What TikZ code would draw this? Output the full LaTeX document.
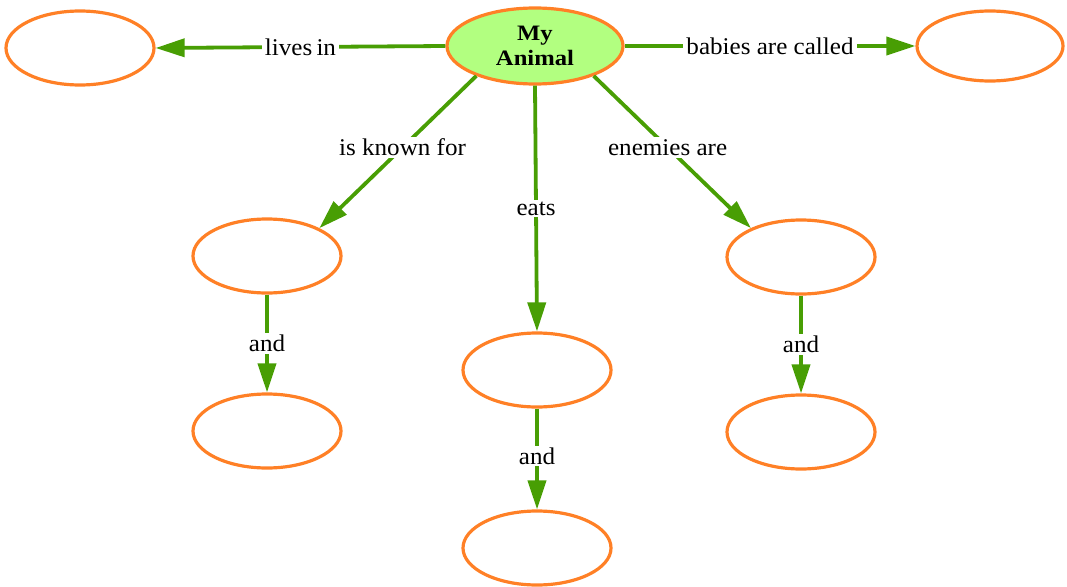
\documentclass[tikz,border=0pt]{standalone}
\usepackage{fontspec}
\setmainfont{Liberation Serif}
\usetikzlibrary{arrows.meta,shapes.geometric}
\definecolor{lgreen}{RGB}{72,158,4}
\definecolor{corange}{RGB}{255,128,38}
\definecolor{cfill}{RGB}{178,255,128}
\newcommand\wide[1]{\scalebox{1.045}[1]{#1}}
\newcommand\wider[1]{\scalebox{1.12}[1]{#1}}
\tikzset{
  concept/.style={ellipse, draw=corange, line width=3.2pt, minimum width=148pt, minimum height=74pt, inner sep=0pt},
  mainconcept/.style={concept, fill=cfill, minimum width=176pt, minimum height=76pt, font=\fontsize{22}{25}\selectfont\bfseries, align=center},
  link/.style={draw=lgreen, line width=3.8pt, -{Triangle[length=29pt,width=18pt]}},
  lbl/.style={fill=white, font=\fontsize{24}{24}\selectfont, inner xsep=3pt, inner ysep=2pt}
}
\begin{document}
\begin{tikzpicture}[x=1pt,y=-1pt]
\useasboundingbox (0,0) rectangle (1067,586);
\node[mainconcept] (c) at (535,46) {\wider{My}\\\wider{Animal}};
\node[concept] (l) at (80,48) {};
\node[concept, minimum width=146pt, minimum height=70pt] (b) at (990,46) {};
\node[concept] (k) at (267,256) {};
\node[concept] (k2) at (267,431) {};
\node[concept] (e) at (537,370) {};
\node[concept] (e2) at (537,548) {};
\node[concept] (n) at (801,257) {};
\node[concept] (n2) at (801,432) {};

\draw[link] (c.west) -- node[lbl,pos=0.5] {\wide{lives\,in}} (l.east);
\draw[link] (c.east) -- node[lbl,pos=0.5] {\wide{babies are called}} (b.west);
\draw[link] (c.207) -- node[lbl,pos=0.47] {\wide{is known for}} (k.28);
\draw[link] (c.333) -- node[lbl,pos=0.47] {\wide{enemies are}} (n.150);
\draw[link] (c.south) -- node[lbl,pos=0.5] {\wide{eats}} (e.north);
\draw[link] (k.south) -- node[lbl,pos=0.5] {\wide{and}} (k2.north);
\draw[link] (e.south) -- node[lbl,pos=0.47] {\wide{and}} (e2.north);
\draw[link] (n.south) -- node[lbl,pos=0.5] {\wide{and}} (n2.north);
\end{tikzpicture}
\end{document}
